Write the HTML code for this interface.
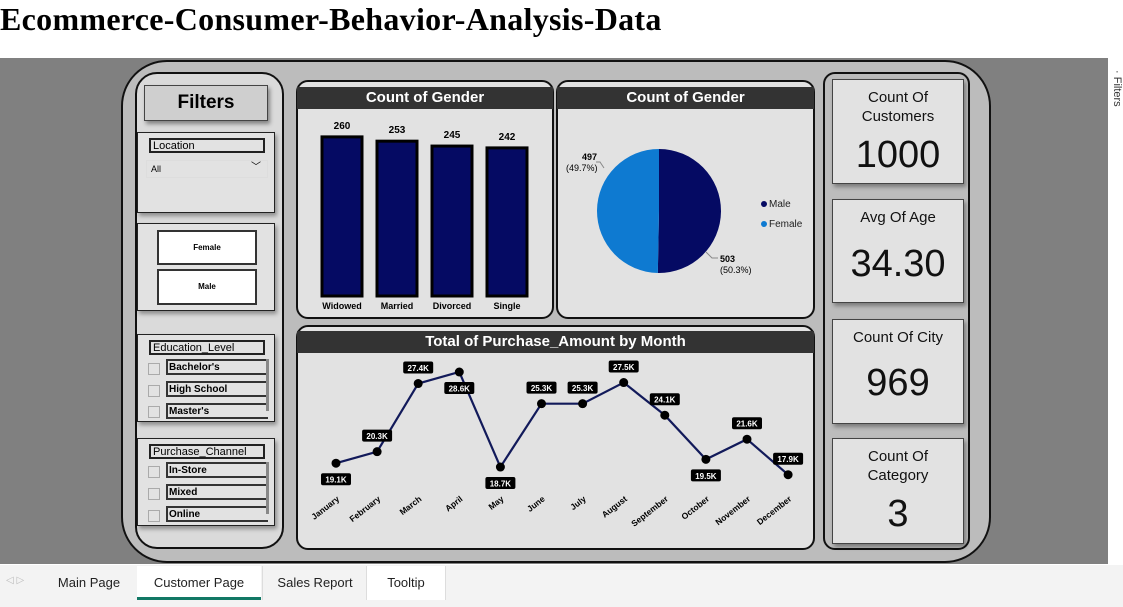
<!DOCTYPE html>
<html><head><meta charset="utf-8"><style>
body{margin:0;width:1123px;height:607px;overflow:hidden;background:#fff;font-family:"Liberation Sans",sans-serif;position:relative}
.a{position:absolute;box-sizing:border-box}
.panel{background:#e2e2e2;border:2px solid #111;border-radius:12px}
.hdr{background:#333;color:#fff;font-weight:bold;font-size:15px;text-align:center;line-height:22px}
.card{background:#e2e2e2;border:1px solid #444;box-shadow:2px 3px 4px rgba(0,0,0,.35);text-align:center;color:#111}
.card .t{font-size:15px;line-height:19px;margin-top:8px}
.card .v{font-size:38px;position:absolute;left:0;right:0}
.slc{background:#e2e2e2;border:1px solid #222;box-shadow:2px 3px 4px rgba(0,0,0,.35)}
.sh{position:absolute;left:11px;width:116px;height:15px;border:2px solid #222;font-size:11px;line-height:12px;padding-left:2px;box-sizing:border-box;background:#e2e2e2}
.it{position:absolute;left:28px;width:102px;height:16px;border:2px solid #333;border-right:none;font-size:10px;font-weight:bold;line-height:13px;padding-left:1px;box-sizing:border-box}
.cb{position:absolute;left:10px;width:10px;height:10px;border:1px solid #aaa}
.tab{position:absolute;top:566px;height:34px;line-height:34px;font-size:13px;color:#222;text-align:center}
</style></head><body>
<div class="a" style="left:0;top:1px;font-family:'Liberation Serif',serif;font-weight:bold;font-size:32px;letter-spacing:0.3px">Ecommerce-Consumer-Behavior-Analysis-Data</div>
<div class="a" style="left:0;top:58px;width:1108px;height:506px;background:#808080"></div>
<div class="a" style="left:1112px;top:70px;width:11px;height:100px;font-size:11px;writing-mode:vertical-rl;color:#333;overflow:hidden">· Filters</div>
<div class="a" style="left:121px;top:60px;width:870px;height:503px;background:#bcbcbc;border:2px solid #111;border-radius:46px"></div>
<div class="a" style="left:135px;top:72px;width:149px;height:477px;background:#dadada;border:2px solid #111;border-radius:22px"></div>
<div class="a" style="left:144px;top:85px;width:124px;height:36px;background:#cfcfcf;border:1px solid #444;box-shadow:2px 3px 4px rgba(0,0,0,.4);font-weight:bold;font-size:19px;text-align:center;line-height:34px">Filters</div>
<div class="a slc" style="left:137px;top:132px;width:138px;height:81px">
<div class="sh" style="top:5px">Location</div>
<div style="position:absolute;left:8px;top:27px;width:122px;height:18px;font-size:9px;line-height:16px;padding-left:4px;box-sizing:border-box;border:1px solid #ddd">All<span style="position:absolute;right:6px;top:-1px;font-size:10px">﹀</span></div></div>
<div class="a slc" style="left:137px;top:223px;width:138px;height:88px">
<div style="position:absolute;left:19px;top:6px;width:100px;height:35px;background:#fff;border:2px solid #333;font-size:8px;font-weight:bold;text-align:center;line-height:32px;box-sizing:border-box">Female</div>
<div style="position:absolute;left:19px;top:45px;width:100px;height:36px;background:#fff;border:2px solid #333;font-size:8px;font-weight:bold;text-align:center;line-height:32px;box-sizing:border-box">Male</div></div>
<div class="a slc" style="left:137px;top:334px;width:138px;height:88px">
<div class="sh" style="top:5px">Education_Level</div>
<div class="cb" style="top:28px"></div><div class="it" style="top:24px">Bachelor's</div>
<div class="cb" style="top:50px"></div><div class="it" style="top:46px">High School</div>
<div class="cb" style="top:71px"></div><div class="it" style="top:68px">Master's</div>
<div style="position:absolute;left:128px;top:24px;width:3px;height:52px;background:#888"></div></div>
<div class="a slc" style="left:137px;top:438px;width:138px;height:88px">
<div class="sh" style="top:5px">Purchase_Channel</div>
<div class="cb" style="top:27px"></div><div class="it" style="top:23px">In-Store</div>
<div class="cb" style="top:49px"></div><div class="it" style="top:45px">Mixed</div>
<div class="cb" style="top:71px"></div><div class="it" style="top:67px">Online</div>
<div style="position:absolute;left:128px;top:23px;width:3px;height:52px;background:#888"></div></div>

<div class="a panel" style="left:296px;top:80px;width:258px;height:239px"></div>
<div class="a hdr" style="left:297px;top:87px;width:256px;height:22px">Count of Gender</div>
<div class="a panel" style="left:556px;top:80px;width:259px;height:239px"></div>
<div class="a hdr" style="left:557px;top:87px;width:257px;height:22px">Count of Gender</div>
<div class="a panel" style="left:296px;top:325px;width:519px;height:225px"></div>
<div class="a hdr" style="left:297px;top:331px;width:517px;height:22px">Total of Purchase_Amount by Month</div>

<svg class="a" style="left:0;top:0" width="1123" height="607" id="charts"></svg>

<div class="a" style="left:823px;top:72px;width:147px;height:478px;background:#bcbcbc;border:2px solid #111;border-radius:12px"></div>
<div class="a card" style="left:832px;top:79px;width:132px;height:105px"><div class="t">Count Of<br>Customers</div><div class="v" style="top:54px">1000</div></div>
<div class="a card" style="left:832px;top:199px;width:132px;height:104px"><div class="t">Avg Of Age</div><div class="v" style="top:43px">34.30</div></div>
<div class="a card" style="left:832px;top:319px;width:132px;height:105px"><div class="t">Count Of City</div><div class="v" style="top:42px">969</div></div>
<div class="a card" style="left:832px;top:438px;width:132px;height:106px"><div class="t">Count Of<br>Category</div><div class="v" style="top:54px">3</div></div>

<div class="a" style="left:0;top:565px;width:1123px;height:42px;background:#f3f3f3"></div>
<div class="a" style="left:6px;top:575px;font-size:10px;color:#bbb">◁ ▷</div>
<div class="tab" style="left:45px;width:88px">Main Page</div>
<div class="tab" style="left:137px;width:124px;background:#fff;border-bottom:3px solid #117865;box-sizing:border-box">Customer Page</div>
<div class="tab" style="left:262px;width:104px;border-left:1px solid #ddd">Sales Report</div>
<div class="tab" style="left:366px;width:78px;border-left:1px solid #ddd;border-right:1px solid #ddd;background:#fff">Tooltip</div>

<script>
const barCats=["Widowed","Married","Divorced","Single"];
const barVals=[260,253,245,242];
const pieCats=["Male","Female"];
const pieVals=[503,497];
const months=["January","February","March","April","May","June","July","August","September","October","November","December"];
const amounts=[19.1,20.3,27.4,28.6,18.7,25.3,25.3,27.5,24.1,19.5,21.6,17.9];
const labelBelow=[true,false,false,true,true,false,false,false,false,true,false,false];

const svg=document.getElementById('charts');
const NS='http://www.w3.org/2000/svg';
function mk(t,a,p){const e=document.createElementNS(NS,t);for(const k in a)e.setAttribute(k,a[k]);(p||svg).appendChild(e);return e;}

// bar chart
const bx=i=>322+i*55, bw=40, base=296, by=v=>base-v*0.612;
barCats.forEach((c,i)=>{
  const r=mk('rect',{x:bx(i),y:by(barVals[i]),width:bw,height:base-by(barVals[i]),fill:'#050a63',stroke:'#000','stroke-width':3});
  
  
  const t=mk('text',{x:bx(i)+bw/2,y:by(barVals[i])-8,'text-anchor':'middle','font-size':10,'font-weight':'bold'});t.textContent=barVals[i];
  
  
  const l=mk('text',{x:bx(i)+bw/2,y:309,'text-anchor':'middle','font-size':9,'font-weight':'bold'});l.textContent=c;
  
  
});

// pie
const cx=659,cy=211,R=62,tot=pieVals.reduce((a,b)=>a+b,0);
const pcol=['#050a63','#0e7ad1'];
let ang=-Math.PI/2;
pieVals.forEach((v,i)=>{
  const a2=ang+v/tot*2*Math.PI;
  const large=(a2-ang)>Math.PI?1:0;
  const p=mk('path',{d:`M${cx},${cy}L${cx+R*Math.cos(ang)},${cy+R*Math.sin(ang)}A${R},${R} 0 ${large} 1 ${cx+R*Math.cos(a2)},${cy+R*Math.sin(a2)}Z`,fill:pcol[i]});
  
  
  const mid=(ang+a2)/2;
  const right=Math.cos(mid)>0;
  const pct=(v/tot*100).toFixed(1);
  const t=mk('text',{x:right?720:582,y:right?262:160,'font-size':9});
  
  
  const s1=mk('tspan',{x:right?720:582,dy:0,'font-weight':'bold'},t);s1.textContent=v;
  const s2=mk('tspan',{x:right?720:566,dy:11},t);s2.textContent='('+pct+'%)';
  ang=a2;
});
mk('polyline',{points:'706,252 712,258 718,258',fill:'none',stroke:'#888','stroke-width':1});
mk('polyline',{points:'604,168 600,162 596,162',fill:'none',stroke:'#888','stroke-width':1});
pieCats.forEach((c,i)=>{
  mk('circle',{cx:764,cy:204+i*20,r:3,fill:pcol[i]});
  const t=mk('text',{x:769,y:207+i*20,'font-size':10,fill:'#222'});t.textContent=c;
  
  
});

// line chart
const lx=i=>336+i*41.1, ly=v=>372+(28.6-v)*9.6;
const pts=amounts.map((v,i)=>lx(i)+','+ly(v)).join(' ');
const line=mk('polyline',{points:pts,fill:'none',stroke:'#121a5a','stroke-width':2.2});


amounts.forEach((v,i)=>{
  const c=mk('circle',{cx:lx(i),cy:ly(v),r:4.5,fill:'#000'});
  
  
  const yy=labelBelow[i]?ly(v)+16:ly(v)-16;
  const g=mk('g',{});
  
  
  mk('rect',{x:lx(i)-15,y:yy-6,width:30,height:12,rx:2,fill:'#000'},g);
  const t=mk('text',{x:lx(i),y:yy+3.5,'text-anchor':'middle','font-size':8,'font-weight':'bold',fill:'#fff'},g);t.textContent=v.toFixed(1)+'K';
  const ax=lx(i)+4, ay=500;
  const l=mk('text',{x:ax,y:ay,'text-anchor':'end','font-size':8.5,'font-weight':'bold',transform:`rotate(-38 ${ax} ${ay})`});l.textContent=months[i];
  
  
});
</script>
</body></html>
